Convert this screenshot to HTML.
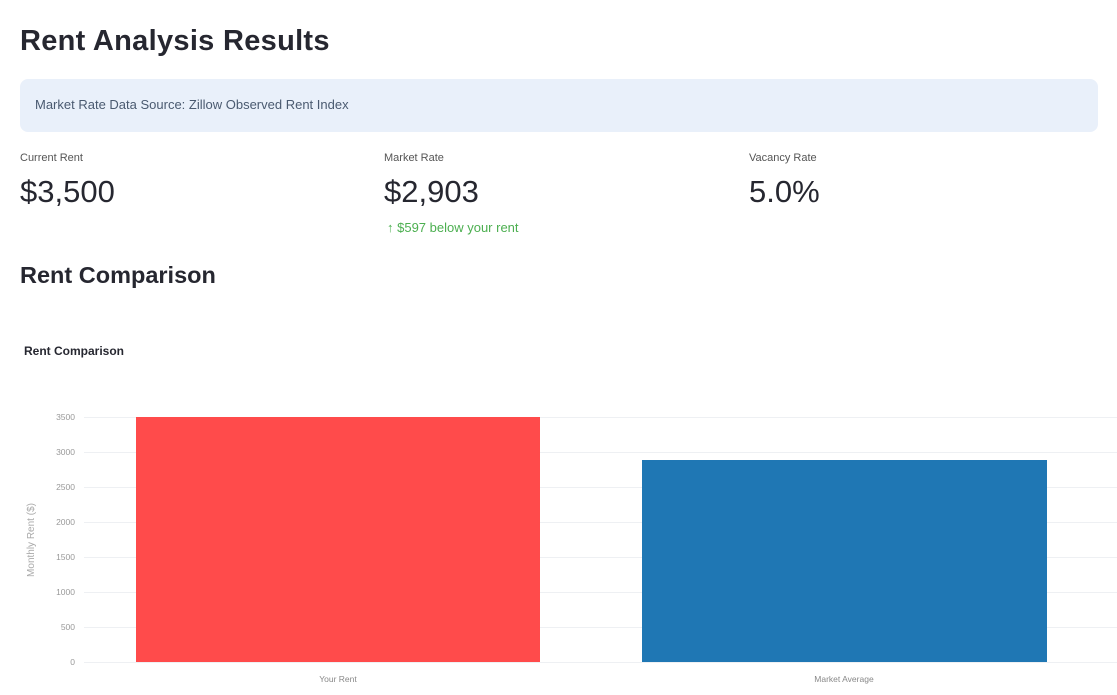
<!DOCTYPE html>
<html><head><style>
body{margin:0;width:1117px;height:695px;background:#fff;font-family:"Liberation Sans",sans-serif;position:relative;overflow:hidden;color:#31333f}
.a{position:absolute;white-space:nowrap}
</style></head><body>
<div class="a" style="left:20px;top:25px;font-size:29px;font-weight:600;color:#262730;letter-spacing:0.3px">Rent Analysis Results</div>
<div class="a" style="left:20px;top:79px;width:1078px;height:53px;background:#e9f0fa;border-radius:8px"></div>
<div class="a" style="left:35px;top:97px;font-size:13px;color:#4a5a70">Market Rate Data Source: Zillow Observed Rent Index</div>
<div class="a" style="left:20px;top:152px;font-size:11px;color:#555">Current Rent</div>
<div class="a" style="left:20px;top:174px;font-size:31px;color:#262730">$3,500</div>
<div class="a" style="left:384px;top:152px;font-size:11px;color:#555">Market Rate</div>
<div class="a" style="left:384px;top:174px;font-size:31px;color:#262730">$2,903</div>
<div class="a" style="left:387px;top:220px;font-size:13px;color:#4caf50">↑ $597 below your rent</div>
<div class="a" style="left:749px;top:152px;font-size:11px;color:#555">Vacancy Rate</div>
<div class="a" style="left:749px;top:174px;font-size:31px;color:#262730">5.0%</div>
<div class="a" style="left:20px;top:262px;font-size:23.5px;font-weight:600;color:#262730">Rent Comparison</div>
<div class="a" style="left:24px;top:344px;font-size:12px;font-weight:bold;color:#262730">Rent Comparison</div>
<svg class="a" style="left:0;top:0" width="1117" height="695">
<g stroke="#eef0f3" stroke-width="1">
<line x1="84" x2="1117" y1="417.5" y2="417.5"/><line x1="84" x2="1117" y1="452.5" y2="452.5"/>
<line x1="84" x2="1117" y1="487.5" y2="487.5"/><line x1="84" x2="1117" y1="522.5" y2="522.5"/>
<line x1="84" x2="1117" y1="557.5" y2="557.5"/><line x1="84" x2="1117" y1="592.5" y2="592.5"/>
<line x1="84" x2="1117" y1="627.5" y2="627.5"/><line x1="84" x2="1117" y1="662.5" y2="662.5"/>
</g>
<g font-size="8.5" fill="#999" text-anchor="end" font-family="Liberation Sans">
<text x="75" y="420">3500</text><text x="75" y="455">3000</text><text x="75" y="490">2500</text>
<text x="75" y="525">2000</text><text x="75" y="560">1500</text><text x="75" y="595">1000</text>
<text x="75" y="630">500</text><text x="75" y="665">0</text>
</g>
<text transform="translate(34,540) rotate(-90)" text-anchor="middle" font-size="10" fill="#aaa" font-family="Liberation Sans">Monthly Rent ($)</text>
<rect x="136" y="417" width="404" height="245" fill="#ff4b4b"/>
<rect x="642" y="460" width="405" height="202" fill="#1f77b4"/>
<g font-size="8.5" fill="#888" text-anchor="middle" font-family="Liberation Sans">
<text x="338" y="682">Your Rent</text><text x="844" y="682">Market Average</text>
</g>
</svg>
</body></html>
